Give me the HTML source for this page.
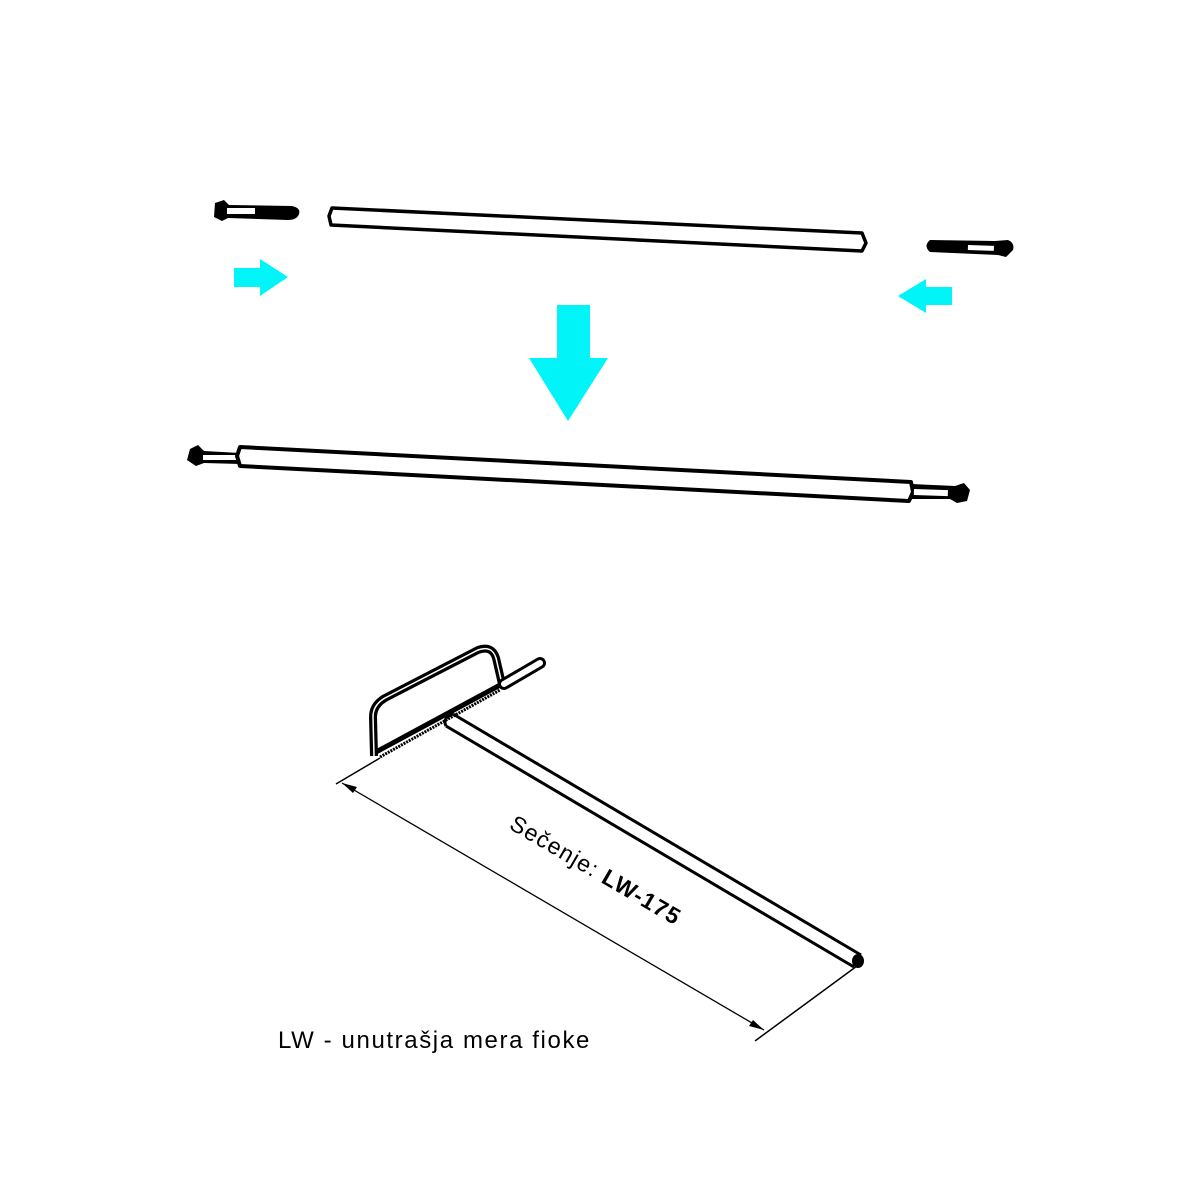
<!DOCTYPE html>
<html><head><meta charset="utf-8"><style>html,body{margin:0;padding:0;background:#fff}svg{display:block}</style></head><body>
<svg width="1200" height="1200" viewBox="0 0 1200 1200" xmlns="http://www.w3.org/2000/svg">
<rect width="1200" height="1200" fill="#fff"/>
<!-- left pin -->
<path d="M215,203 L224,200 L229,205 L292,206 Q301,208 299,214 Q297,220 288,220 L228,218 L222,221 L214,217 Z" fill="#000"/>
<rect x="227" y="208" width="28" height="6" fill="#fff"/>
<!-- top rod -->
<polygon points="332,208 862,233 866,243 862,251 331,225 329,216" fill="#fff" stroke="#000" stroke-width="3.5" stroke-linejoin="round"/>
<!-- right pin -->
<path d="M930,240 L995,241 L1008,240 Q1015,243 1013,250 L1006,257 L998,255 L930,252 Q923,246 930,240 Z" fill="#000"/>
<rect x="968" y="245" width="26" height="5" fill="#fff" transform="rotate(2 968 245)"/>
<!-- cyan arrows -->
<polygon points="234,268 260,268 260,259 288,277 260,296 260,287 234,287" fill="#00f4f8"/>
<polygon points="952,287 926,287 926,279 898,296 926,313 926,305 952,305" fill="#00f4f8"/>
<polygon points="557,305 590,305 590,358 608,358 568,421 529,358 557,358" fill="#00f4f8"/>
<!-- assembled rod -->
<path d="M190,449 L198,445 L204,451 L240,453 L240,464 L204,463 L196,466 L187,460 Z" fill="#000"/>
<rect x="203" y="455" width="33" height="5" fill="#fff"/>
<polygon points="240,447 911,482 913,492 909,501 240,466 237,456" fill="#fff" stroke="#000" stroke-width="4" stroke-linejoin="round"/>
<path d="M911,484 L955,486 L964,483 L970,490 L967,501 L957,503 L950,499 L911,499 Z" fill="#000"/>
<rect x="914" y="489" width="34" height="6" fill="#fff" transform="rotate(2 914 489)"/>
<!-- saw rod -->
<line x1="453" y1="714" x2="861" y2="955" stroke="#000" stroke-width="3"/>
<line x1="446" y1="726" x2="854" y2="967" stroke="#000" stroke-width="3"/>
<path d="M453,714 Q442,718 446,726" fill="none" stroke="#000" stroke-width="3"/>
<ellipse cx="858" cy="961" rx="6" ry="7" fill="#000"/>
<!-- saw frame -->
<path d="M374,756 L373,717 Q373,705 385,698 L478,650 Q492,645 496,658 L502,684" fill="none" stroke="#000" stroke-width="8" stroke-linejoin="round"/>
<path d="M374,756 L373,717 Q373,705 385,698 L478,650 Q492,645 496,658 L502,684" fill="none" stroke="#fff" stroke-width="1.5"/>
<line x1="376" y1="752" x2="502" y2="684" stroke="#000" stroke-width="5"/>
<line x1="380" y1="757" x2="500" y2="690" stroke="#000" stroke-width="3" stroke-dasharray="2,1"/>
<!-- handle -->
<line x1="504" y1="684" x2="540" y2="663" stroke="#000" stroke-width="12" stroke-linecap="round"/>
<line x1="504" y1="684" x2="540" y2="663" stroke="#fff" stroke-width="6" stroke-linecap="round"/>
<!-- dimension -->
<line x1="336" y1="784" x2="380" y2="758" stroke="#000" stroke-width="1.5"/>
<line x1="755" y1="1041" x2="857" y2="966" stroke="#000" stroke-width="1.5"/>
<line x1="342" y1="783" x2="764" y2="1030" stroke="#000" stroke-width="1.3"/>
<polygon points="342,783 357,787 353,793" fill="#000"/>
<polygon points="764,1030 749,1026 753,1020" fill="#000"/>
<text x="0" y="0" transform="translate(508,828) rotate(30.3)" font-family="Liberation Sans, sans-serif" font-size="23" letter-spacing="1.2" fill="#000">Sečenje: <tspan font-weight="bold">LW-175</tspan></text>
<text x="278" y="1048" font-family="Liberation Sans, sans-serif" font-size="24" letter-spacing="1.6" fill="#000">LW - unutrašja mera fioke</text>
</svg>
</body></html>
